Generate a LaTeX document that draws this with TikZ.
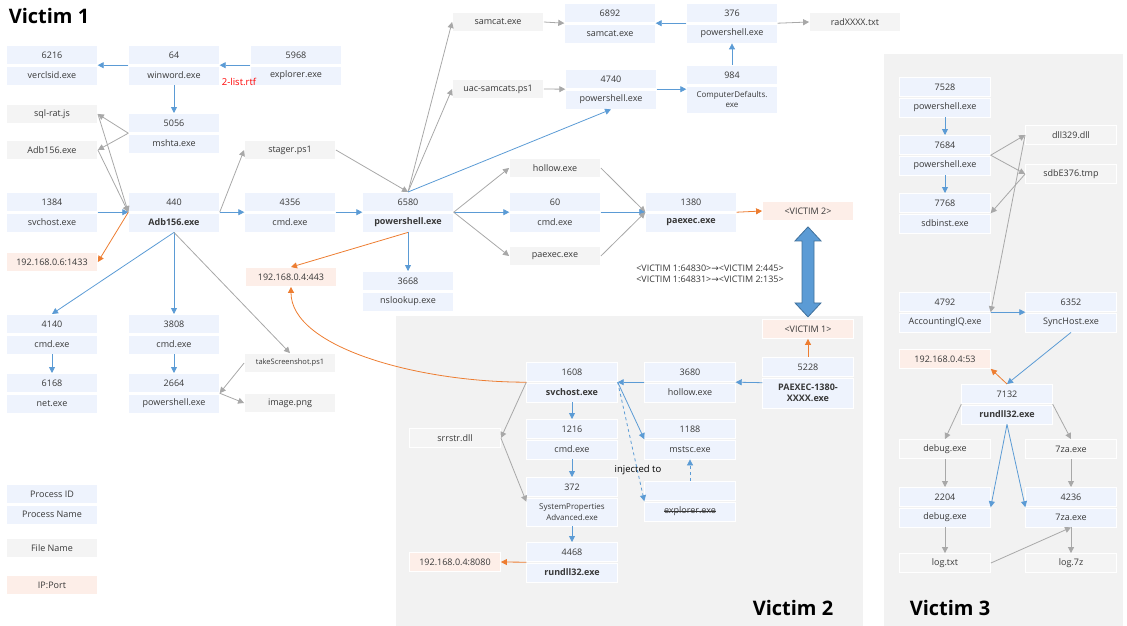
\documentclass[tikz,border=0pt]{standalone}
\usepackage{fontspec}
\setmainfont{Open Sans}
\newfontfamily\arrowfont{DejaVu Sans}
\usepackage{xcolor}
\usepackage{tikz}
\usetikzlibrary{arrows.meta}

\definecolor{procfill}{HTML}{EEF3FD}
\definecolor{filefill}{HTML}{F4F4F4}
\definecolor{ipfill}{HTML}{FDEEE8}
\definecolor{areafill}{HTML}{F2F2F2}
\definecolor{procline}{HTML}{5B9BD5}
\definecolor{fileline}{HTML}{A8A8A8}
\definecolor{ipline}{HTML}{ED7D31}
\definecolor{bigline}{HTML}{41719C}

% process box: [lower row height]{name}{x}{y top}{pid}{process name}
\newcommand{\proc}[6][19]{%
  \node[framebox, minimum height=#1+21, anchor=north] (#2) at (#3,#4) {};
  \node[procrow, anchor=north] (#2-id) at (#2.north) {#5};
  \node[procrow, anchor=south, minimum height=#1] (#2-nm) at (#2.south) {#6};
}
\newsavebox{\strikebox}
\newcommand{\strikeout}[1]{\sbox{\strikebox}{#1}\rlap{\usebox{\strikebox}}\rule[0.55ex]{\wd\strikebox}{0.5pt}}

\begin{document}
\begin{tikzpicture}[x=1pt, y=-1pt,
    every node/.style={text=black!78, font=\fontsize{9}{10.5}\selectfont},
    framebox/.style={inner sep=0pt, minimum width=91},
    procrow/.style={fill=procfill, draw=white, line width=0.8pt, inner sep=0pt,
                    minimum width=91, minimum height=19, align=center},
    filebox/.style={fill=filefill, draw=white, line width=0.8pt, inner sep=0pt,
                    minimum width=91, minimum height=19},
    ipbox/.style={fill=ipfill, draw=white, line width=0.8pt, inner sep=0pt,
                  minimum width=91, minimum height=19},
    title/.style={text=black, font=\fontsize{20}{24}\selectfont\bfseries},
    procarrow/.style={draw=procline, line width=0.8pt, -{Triangle[length=6pt,width=6pt]}},
    filearrow/.style={draw=fileline, line width=0.8pt, -{Triangle[length=6pt,width=6pt]}},
    netarrow/.style={draw=ipline, line width=0.8pt, -{Triangle[length=6pt,width=6pt]}}]

\useasboundingbox (0,0) rectangle (1127,626);
\fill[areafill] (396,316) rectangle (863,626);
\fill[areafill] (884,54) rectangle (1123,626);

\node[title] (v1title) at (49,16) {Victim 1};
\node[title] (v2title) at (793,608) {Victim 2};
\node[title] (v3title) at (950,608) {Victim 3};

% victim 1
\proc{verclsid}{52}{45}{6216}{verclsid.exe}
\proc{winword}{174}{45}{64}{winword.exe}
\proc{explorerA}{296}{45}{5968}{explorer.exe}
\node[text=red, font=\fontsize{9.5}{11}\selectfont] (rtf) at (239,82) {2-list.rtf};
\proc{mshta}{174}{113}{5056}{mshta.exe}
\node[filebox] (sqlrat) at (52,114) {sql-rat.js};
\node[filebox] (adbfile) at (52,150) {Adb156.exe};
\node[filebox] (stager) at (290,150) {stager.ps1};
\proc{svchostA}{52}{192}{1384}{svchost.exe}
\proc{adb}{174}{192}{440}{\textbf{Adb156.exe}}
\proc{cmdA}{290}{192}{4356}{cmd.exe}
\proc{psA}{408}{192}{6580}{\textbf{powershell.exe}}
\proc{nslookup}{408}{271}{3668}{nslookup.exe}
\node[ipbox] (ip1433) at (52,262) {192.168.0.6:1433};
\node[ipbox] (ip443) at (291,277) {192.168.0.4:443};
\proc{cmdC}{52}{314}{4140}{cmd.exe}
\proc{cmdD}{174}{314}{3808}{cmd.exe}
\proc{net}{52}{373}{6168}{net.exe}
\proc{psD}{174}{373}{2664}{powershell.exe}
\node[filebox, font=\fontsize{7.5}{9}\selectfont] (screenshot) at (290,363) {takeScreenshot.ps1};
\node[filebox] (image) at (290,403) {image.png};

\node[filebox] (samcatfile) at (498,22) {samcat.exe};
\node[filebox] (uac) at (498,89) {uac-samcats.ps1};
\proc{samcat}{610}{3}{6892}{samcat.exe}
\proc{psB}{732}{3}{376}{powershell.exe}
\node[filebox] (radtxt) at (855,22) {radXXXX.txt};
\proc{psC}{611}{69}{4740}{powershell.exe}
\proc[27]{compdef}{732}{65}{984}{\fontsize{8}{9.5}\selectfont ComputerDefaults.\\\fontsize{8}{9.5}\selectfont exe}
\node[filebox] (hollowfile) at (555,168) {hollow.exe};
\proc{cmdB}{555}{192}{60}{cmd.exe}
\node[filebox] (paexecfile) at (555,256) {paexec.exe};
\proc{paexecA}{691}{192}{1380}{\textbf{paexec.exe}}
\node[ipbox] (victim2) at (808,211) {<VICTIM 2>};
\node[align=left, font=\fontsize{9}{11}\selectfont] (conn) at (710,274)
  {<VICTIM 1:64830>{\arrowfont →}<VICTIM 2:445>\\<VICTIM 1:64831>{\arrowfont →}<VICTIM 2:135>};

% victim 2
\node[ipbox] (victim1) at (808,329) {<VICTIM 1>};
\proc[30]{paexecB}{808}{357}{5228}{\textbf{PAEXEC-1380-}\\\textbf{XXXX.exe}}
\proc{hollowA}{690}{362}{3680}{hollow.exe}
\proc{svchostB}{572}{362}{1608}{\textbf{svchost.exe}}
\proc{cmdE}{572}{419}{1216}{cmd.exe}
\proc{mstsc}{690}{419}{1188}{mstsc.exe}
\node[filebox] (srrstr) at (455,438) {srrstr.dll};
\proc[28]{sysprop}{572}{477}{372}{\fontsize{8}{9.5}\selectfont SystemProperties\\\fontsize{8}{9.5}\selectfont Advanced.exe}
\proc{explorerB}{690}{481}{}{\strikeout{explorer.exe}}
\node[text=black, font=\fontsize{9.5}{11}\selectfont] (inject) at (638,470) {injected to};
\proc{rundllA}{572}{542}{4468}{\textbf{rundll32.exe}}
\node[ipbox] (ip8080) at (455,562) {192.168.0.4:8080};

% victim 3
\proc{psE}{945}{77}{7528}{powershell.exe}
\proc{psF}{945}{135}{7684}{powershell.exe}
\proc{sdbinst}{945}{193}{7768}{sdbinst.exe}
\node[filebox] (dll329) at (1071,135) {dll329.dll};
\node[filebox] (sdbtmp) at (1071,174) {sdbE376.tmp};
\proc{accIQ}{945}{292}{4792}{AccountingIQ.exe}
\proc{synchost}{1071}{292}{6352}{SyncHost.exe}
\node[ipbox] (ip53) at (945,359) {192.168.0.4:53};
\proc{rundllB}{1007}{384}{7132}{\textbf{rundll32.exe}}
\node[filebox] (debugfile) at (945,449) {debug.exe};
\node[filebox] (zafile) at (1071,449) {7za.exe};
\proc{debugB}{945}{487}{2204}{debug.exe}
\proc{zaB}{1071}{487}{4236}{7za.exe}
\node[filebox] (logtxt) at (945,563) {log.txt};
\node[filebox] (log7z) at (1071,563) {log.7z};

% legend
\proc{legend}{52}{484}{Process ID}{Process Name}
\node[filebox] (legfile) at (52,548) {File Name};
\node[ipbox] (legip) at (52,585) {IP:Port};

% connectors victim 1
\draw[procarrow] (winword.west) -- (verclsid.east);
\draw[procarrow] (explorerA.west) -- (winword.east);
\draw[procarrow] (winword.south) -- (mshta.north);
\draw[filearrow] (mshta.west) -- (sqlrat.east);
\draw[filearrow] (mshta.west) -- (adbfile.east);
\draw[filearrow] (sqlrat.east) -- (adb.west);
\draw[filearrow] (adbfile.east) -- (adb.west);
\draw[procarrow] (svchostA.east) -- (adb.west);
\draw[netarrow] (adb.west) -- (ip1433.east);
\draw[filearrow] (adb.east) -- (stager.west);
\draw[procarrow] (adb.east) -- (cmdA.west);
\draw[procarrow] (cmdA.east) -- (psA.west);
\draw[filearrow] (stager.east) -- (psA.north);
\draw[filearrow] (psA.north) -- (samcatfile.west);
\draw[filearrow] (psA.north) -- (uac.west);
\draw[filearrow] (samcatfile.east) -- (samcat.west);
\draw[filearrow] (uac.east) -- (psC.west);
\draw[procarrow] (psB.west) -- (samcat.east);
\draw[filearrow] (psB.east) -- (radtxt.west);
\draw[procarrow] (compdef.north) -- (psB.south);
\draw[procarrow] (psC.east) -- (compdef.west);
\draw[procarrow] (psA.north) -- (psC.south);
\draw[filearrow] (psA.east) -- (hollowfile.west);
\draw[procarrow] (psA.east) -- (cmdB.west);
\draw[filearrow] (psA.east) -- (paexecfile.west);
\draw[filearrow] (hollowfile.east) -- (paexecA.west);
\draw[procarrow] (cmdB.east) -- (paexecA.west);
\draw[filearrow] (paexecfile.east) -- (paexecA.west);
\draw[netarrow] (paexecA.east) -- (victim2.west);
\draw[netarrow] (psA.south) -- (ip443.north);
\draw[procarrow] (psA.south) -- (nslookup.north);
\draw[procarrow] (adb.south) -- (cmdC.north);
\draw[procarrow] (adb.south) -- (cmdD.north);
\draw[filearrow] (adb.south) -- (screenshot.north);
\draw[procarrow] (cmdC.south) -- (net.north);
\draw[procarrow] (cmdD.south) -- (psD.north);
\draw[filearrow] (screenshot.west) -- (psD.east);
\draw[filearrow] (psD.east) -- (image.west);

% big two-way arrow between the hosts
\draw[bigline, fill=procline, line width=0.8pt] (victim2.south) ++(0,6) -- ++(13,14) -- ++(-7,0)
  -- ++(0,62) -- ++(7,0) -- ++(-13,14) -- ++(-13,-14) -- ++(7,0) -- ++(0,-62) -- ++(-7,0) -- cycle;

% connectors victim 2
\draw[netarrow] (paexecB.north) -- (victim1.south);
\draw[procarrow] (paexecB.west) -- (hollowA.east);
\draw[procarrow] (hollowA.west) -- (svchostB.east);
\draw[procarrow] (svchostB.east) -- (mstsc.west);
\draw[procarrow, dashed] (svchostB.east) -- (explorerB.west);
\draw[procarrow, dashed] (explorerB.north) -- (mstsc.south);
\draw[procarrow] (svchostB.south) -- (cmdE.north);
\draw[procarrow] (cmdE.south) -- (sysprop.north);
\draw[procarrow] (sysprop.south) -- (rundllA.north);
\draw[netarrow] (rundllA.west) -- (ip8080.east);
\draw[filearrow] (svchostB.west) -- (srrstr.east);
\draw[filearrow] (srrstr.east) -- (sysprop.west);
\draw[netarrow] (svchostB.west) .. controls +(-110,0) and +(0,60) .. (ip443.south);

% connectors victim 3
\draw[procarrow] (psE.south) -- (psF.north);
\draw[procarrow] (psF.south) -- (sdbinst.north);
\draw[filearrow] (psF.east) -- (dll329.west);
\draw[filearrow] (psF.east) -- (sdbtmp.west);
\draw[filearrow] (sdbtmp.west) -- (sdbinst.east);
\draw[filearrow] (dll329.west) -- (accIQ.east);
\draw[procarrow] (accIQ.east) -- (synchost.west);
\draw[procarrow] (synchost.south) -- (rundllB.north);
\draw[netarrow] (rundllB.north) -- (ip53.south east);
\draw[filearrow] (rundllB.west) -- (debugfile.north);
\draw[filearrow] (rundllB.east) -- (zafile.north);
\draw[procarrow] (rundllB.south) -- (debugB.east);
\draw[procarrow] (rundllB.south) -- (zaB.west);
\draw[filearrow] (debugfile.south) -- (debugB.north);
\draw[filearrow] (zafile.south) -- (zaB.north);
\draw[filearrow] (debugB.south) -- (logtxt.north);
\draw[filearrow] (zaB.south) -- (log7z.north);
\draw[filearrow] (logtxt.east) -- (zaB.south);
\end{tikzpicture}
\end{document}
